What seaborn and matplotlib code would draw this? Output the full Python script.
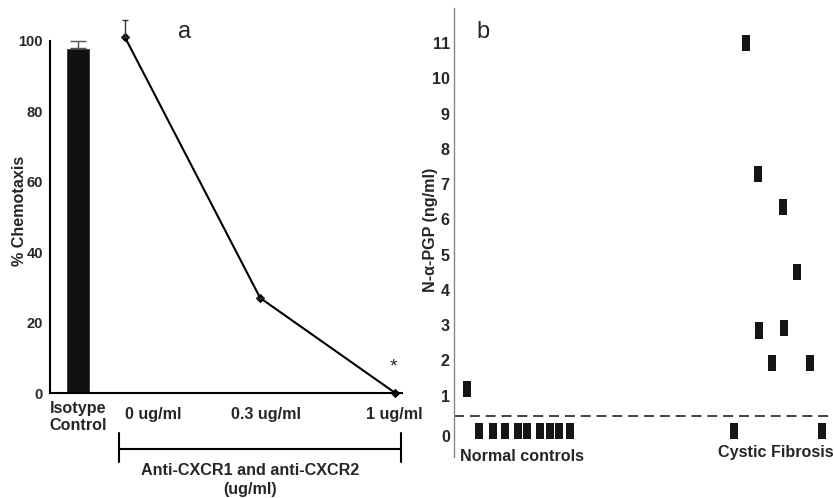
import numpy as np
import pandas as pd
import matplotlib
matplotlib.use("Agg")
import matplotlib.pyplot as plt
import matplotlib.path as mpath
import matplotlib.transforms as mtransforms
import seaborn as sns

# ---------------- data ----------------
# panel a
bar_label = "Isotype\nControl"
bar_value = 98
bar_err = 2
doses = ["0 ug/ml", "0.3 ug/ml", "1 ug/ml"]
dose_values = [101, 27, 0]
dose_err = [5, 0, 0]

# panel b
normal_values = [1.2, 0, 0, 0, 0, 0, 0, 0, 0, 0]
cf_values = [0, 11, 7.3, 2.85, 1.93, 6.35, 2.93, 4.5, 1.93, 0]
threshold = 0.43
yticks_b = list(range(0, 12))

# ---------------- layout positions ----------------
bar_x = 0.652
dose_x = [1, 2, 3]
dose_label_x = [1.21, 2.04, 2.99]
normal_x = [13, 25, 39, 51, 64, 73, 86, 96, 105, 116]
cf_x = [280, 292, 304, 305, 318, 329, 330, 343, 356, 368]

sns.set_style("white")
plt.rcParams['font.family'] = ['Liberation Sans', 'DejaVu Sans']

FS = 11.6

fig = plt.figure(figsize=(8.34, 4.98), dpi=100)

# ================= panel a =================
ax = fig.add_axes([50/834, 105/498, 352/834, 352/498])
sns.barplot(x=[bar_x], y=[bar_value], native_scale=True, width=0.178,
            color="#111111", errorbar=None, ax=ax, saturation=1)
ax.errorbar([bar_x], [bar_value], yerr=[[0], [bar_err]], fmt="none",
            ecolor="#555555", elinewidth=1, capsize=6, clip_on=False)

df_a = pd.DataFrame({"x": dose_x, "y": dose_values})
sns.lineplot(data=df_a, x="x", y="y", color="black", linewidth=1.5,
             marker="D", markersize=4.5, markeredgecolor="black", ax=ax,
             clip_on=False)
ax.errorbar(dose_x, dose_values, yerr=[[0]*3, dose_err], fmt="none",
            ecolor="#333333", elinewidth=1, capsize=2.5, clip_on=False)

ax.set_xlim(0.444, 3.05)
ax.set_ylim(0, 100)
ax.set_yticks([0, 20, 40, 60, 80, 100])
ax.set_yticklabels([str(v) for v in [0, 20, 40, 60, 80, 100]],
                   fontweight="bold", fontsize=10.5)
ax.tick_params(axis="y", length=0, pad=5)
ax.set_xticks([])
ax.set_xlabel("")
ax.set_ylabel("")
for s in ["top", "right"]:
    ax.spines[s].set_visible(False)
for s in ["left", "bottom"]:
    ax.spines[s].set_color("black")
    ax.spines[s].set_linewidth(1.5)

# x labels
ax.text(bar_x, -6.8, bar_label, ha="center", va="center", fontsize=FS,
        fontweight="bold", linespacing=1.22)
for lx, lab in zip(dose_label_x, doses):
    ax.text(lx, -6.2, lab, ha="center", va="center", fontsize=FS,
            fontweight="bold")
# bracket
ax.plot([0.956, 3.044], [-15.9, -15.9], color="black", lw=1.5, clip_on=False)
ax.plot([0.956, 0.956], [-11.4, -19.6], color="black", lw=1.5, clip_on=False)
ax.plot([3.044, 3.044], [-11.4, -19.6], color="black", lw=1.5, clip_on=False)
ax.text(1.926, -20.0, "Anti-CXCR1 and anti-CXCR2\n(ug/ml)", ha="center",
        va="top", fontsize=FS, fontweight="bold", linespacing=1.3)
ax.text(2.985, 7.5, "*", ha="center", va="center", fontsize=14)

fig.text(185/834, 1 - 32/498, "a", ha="center", va="center", fontsize=17)
fig.text(20/834, 1 - 211/498, "% Chemotaxis", rotation=90, ha="center",
         va="center", fontsize=FS, fontweight="bold")

# ================= panel b =================
bx = fig.add_axes([454/834, 41/498, 380/834, 449/498])
df_b = pd.DataFrame({
    "x": normal_x + cf_x,
    "y": normal_values + cf_values,
    "group": ["Normal controls"] * len(normal_values) + ["Cystic Fibrosis"] * len(cf_values),
})
rect = mpath.Path([(-0.25, -0.5), (0.25, -0.5), (0.25, 0.5), (-0.25, 0.5), (-0.25, -0.5)],
                  closed=True)
sns.scatterplot(data=df_b, x="x", y="y", marker=rect, s=135, color="#151515",
                edgecolor="none", linewidth=0, ax=bx, legend=False, clip_on=False)
bx.axhline(threshold, color="#222222", lw=1.2, dashes=(6, 3.5))
bx.set_xlim(0, 380)
bx.set_ylim(-0.74, 12)
bx.set_yticks(yticks_b)
bx.set_yticklabels([str(v) for v in yticks_b], fontweight="bold", fontsize=FS)
bx.tick_params(axis="y", length=0, pad=3)
# the "0" label sits slightly lower in the reference
lab0 = bx.get_yticklabels()[0]
lab0.set_transform(lab0.get_transform() +
                   mtransforms.ScaledTranslation(0, -5/100, fig.dpi_scale_trans))
bx.set_xticks([])
bx.set_xlabel("")
bx.set_ylabel("")
for s in ["top", "right", "bottom"]:
    bx.spines[s].set_visible(False)
bx.spines["left"].set_color("#888888")
bx.spines["left"].set_linewidth(1)

bx.text(6, -0.72, "Normal controls", ha="left", va="center", fontsize=FS,
        fontweight="bold")
bx.text(322, -0.6, "Cystic Fibrosis", ha="center", va="center", fontsize=FS,
        fontweight="bold")
fig.text(483/834, 1 - 32/498, "b", ha="center", va="center", fontsize=17)
fig.text(430/834, 1 - 230/498, "N-\u03b1-PGP (ng/ml)", rotation=90, ha="center",
         va="center", fontsize=FS, fontweight="bold")

fig.savefig("out.png", dpi=100)
